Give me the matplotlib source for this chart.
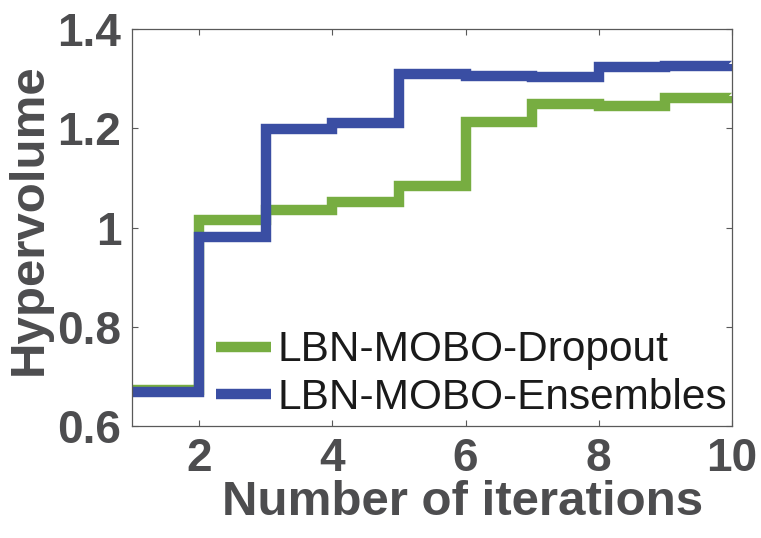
import matplotlib.pyplot as plt

# hypervolume per iteration (stairs, value holds until next iteration)
iterations = [1, 2, 3, 4, 5, 6, 7, 8, 9, 10]
dropout = [0.672, 1.016, 1.036, 1.051, 1.084, 1.214, 1.250, 1.245, 1.261, 1.265]
ensembles = [0.668, 0.982, 1.199, 1.211, 1.310, 1.305, 1.303, 1.324, 1.327, 1.330]

xticks = [2, 4, 6, 8, 10]
yticks = [0.6, 0.8, 1.0, 1.2, 1.4]
ytick_labels = ['0.6', '0.8', '1', '1.2', '1.4']

plt.rcParams['font.family'] = ['Liberation Sans', 'DejaVu Sans']
gray = '#4D4D4F'

fig = plt.figure(figsize=(7.61, 5.38), dpi=100)
ax = fig.add_axes([0.1741, 0.2082, 0.7878, 0.7373])

ax.step(iterations, dropout, where='post', color='#77AD41', lw=7.5,
        solid_joinstyle='miter', solid_capstyle='butt', label='LBN-MOBO-Dropout')
ax.step(iterations, ensembles, where='post', color='#3A4EA3', lw=7.5,
        solid_joinstyle='miter', solid_capstyle='butt', label='LBN-MOBO-Ensembles')

ax.set_xlim(1, 10)
ax.set_ylim(0.6, 1.4)
ax.set_xticks(xticks)
ax.set_xticklabels([str(t) for t in xticks])
ax.set_yticks(yticks)
ax.set_yticklabels(ytick_labels)

ax.tick_params(direction='in', length=4, width=0.8, color='#595959',
               top=True, right=True, labelsize=33, labelcolor=gray, pad=8)
for lab in ax.get_xticklabels() + ax.get_yticklabels():
    lab.set_fontweight('bold')
for sp in ax.spines.values():
    sp.set_color('#595959')
    sp.set_linewidth(0.9)

ax.set_xlabel('Number of iterations', fontsize=35.5, fontweight='bold', color=gray)
ax.xaxis.set_label_coords(0.55, -0.136)
ax.set_ylabel('Hypervolume', fontsize=35.5, fontweight='bold', color=gray)
ax.yaxis.set_label_coords(-0.134, 0.522)

leg = ax.legend(loc='lower left', bbox_to_anchor=(0.139, 0.02), frameon=False,
                fontsize=30.5, handlelength=1.3, handletextpad=0.15,
                labelspacing=0.18, borderaxespad=0, borderpad=0)
for t in leg.get_texts():
    t.set_color('#1A1A1A')

fig.savefig('out.png', dpi=100)
